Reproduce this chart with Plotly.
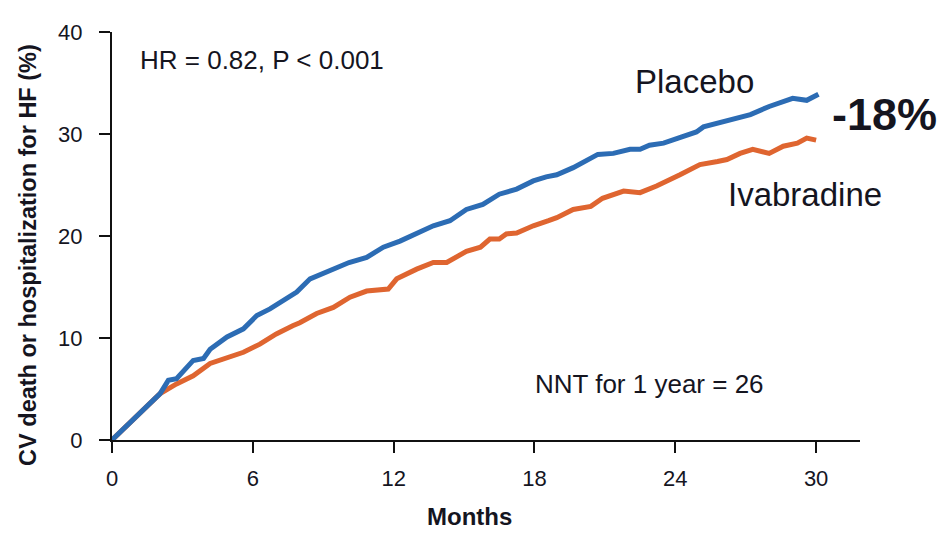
import plotly.graph_objects as go

months_placebo = [0, 1.0, 2.05, 2.4, 2.75, 3.46, 3.9, 4.18, 4.9, 5.6, 6.17, 6.73, 7.3, 7.87, 8.44,
                  9.43, 10.1, 10.85, 11.56, 12.27, 12.98, 13.69, 14.4, 15.1, 15.8, 16.5, 17.24,
                  17.95, 18.5, 18.95, 19.65, 20.7, 21.36, 22.07, 22.5, 22.9, 23.5, 24.2, 24.9,
                  25.2, 26.05, 27.2, 28.0, 29.0, 29.6, 30.1]
placebo = [0, 2.3, 4.55, 5.85, 6.0, 7.8, 8.0, 8.9, 10.1, 10.9, 12.2, 12.85, 13.7, 14.5, 15.8,
           16.75, 17.4, 17.9, 18.9, 19.5, 20.2, 21.0, 21.5, 22.6, 23.1, 24.1, 24.6,
           25.4, 25.8, 26.0, 26.7, 28.0, 28.1, 28.5, 28.5, 28.9, 29.1, 29.6, 30.2,
           30.7, 31.2, 31.9, 32.7, 33.5, 33.3, 33.9]

months_iva = [0, 1.0, 2.05, 2.75, 3.46, 4.18, 4.9, 5.6, 6.3, 7.0, 7.7, 8.0, 8.72, 9.43, 10.14,
              10.85, 11.77, 12.13, 12.98, 13.69, 14.26, 15.1, 15.7, 16.1, 16.5, 16.8, 17.24,
              17.95, 18.6, 18.95, 19.65, 20.4, 20.9, 21.8, 22.5, 23.2, 24.2, 25.05, 25.8,
              26.2, 26.76, 27.3, 28.0, 28.6, 29.2, 29.6, 30.0]
ivabradine = [0, 2.3, 4.55, 5.5, 6.3, 7.5, 8.1, 8.6, 9.4, 10.4, 11.2, 11.5, 12.4, 13.0, 14.0,
              14.6, 14.8, 15.8, 16.75, 17.4, 17.4, 18.5, 18.9, 19.7, 19.7, 20.2, 20.3,
              21.0, 21.5, 21.8, 22.6, 22.9, 23.7, 24.4, 24.25, 24.9, 26.0, 27.0, 27.3,
              27.5, 28.1, 28.5, 28.1, 28.8, 29.1, 29.6, 29.4]

x_ticks = [0, 6, 12, 18, 24, 30]
y_ticks = [0, 10, 20, 30, 40]

BLUE = "#2C6CB4"
ORANGE = "#DF6530"
REG = "Liberation Sans, Arial, sans-serif"
TXT = "#15151f"

fig = go.Figure()
fig.add_trace(go.Scatter(x=months_iva, y=ivabradine, mode="lines",
                         line=dict(color=ORANGE, width=5), name="Ivabradine"))
fig.add_trace(go.Scatter(x=months_placebo, y=placebo, mode="lines",
                         line=dict(color=BLUE, width=5), name="Placebo"))

fig.update_layout(
    width=942, height=530,
    margin=dict(l=104, r=90, t=22, b=98),
    paper_bgcolor="white", plot_bgcolor="white",
    showlegend=False,
    xaxis=dict(range=[0, 31.87], tickvals=x_ticks, ticks="outside", ticklen=11, tickwidth=2,
               tickcolor="#111", showline=True, linecolor="#111", linewidth=2,
               showgrid=False, zeroline=False, ticklabelstandoff=7,
               tickfont=dict(family=REG, size=22, color=TXT)),
    yaxis=dict(range=[0, 40], tickvals=y_ticks, ticks="outside", ticklen=11, tickwidth=2,
               tickcolor="#111", showline=True, linecolor="#111", linewidth=2,
               showgrid=False, zeroline=False, ticklabelstandoff=12,
               tickfont=dict(family=REG, size=22, color=TXT)),
)

def ann(text, x, y, size, xanchor="left", bold=False, xref="x", yref="y", angle=0):
    t = f"<b>{text}</b>" if bold else text
    fig.add_annotation(text=t, x=x, y=y, xref=xref, yref=yref, showarrow=False,
                       xanchor=xanchor, yanchor="middle", textangle=angle,
                       font=dict(family=REG, size=size, color=TXT))

ann("HR = 0.82, P &lt; 0.001", 1.11, 37.3, 26)
ann("Placebo", 22.2, 35.1, 33)
ann("Ivabradine", 26.16, 24.1, 33)
ann("-18%", 30.6, 31.9, 45, bold=True)
ann("NNT for 1 year = 26", 17.94, 5.46, 26)
ann("Months", 0.4786, -0.1878, 24, xanchor="center", bold=True, xref="paper", yref="paper")
ann("CV death or hospitalization for HF (%)", -0.1123, 0.4537, 23.5, xanchor="center",
    bold=True, xref="paper", yref="paper", angle=-90)

fig.write_html("out.html")
